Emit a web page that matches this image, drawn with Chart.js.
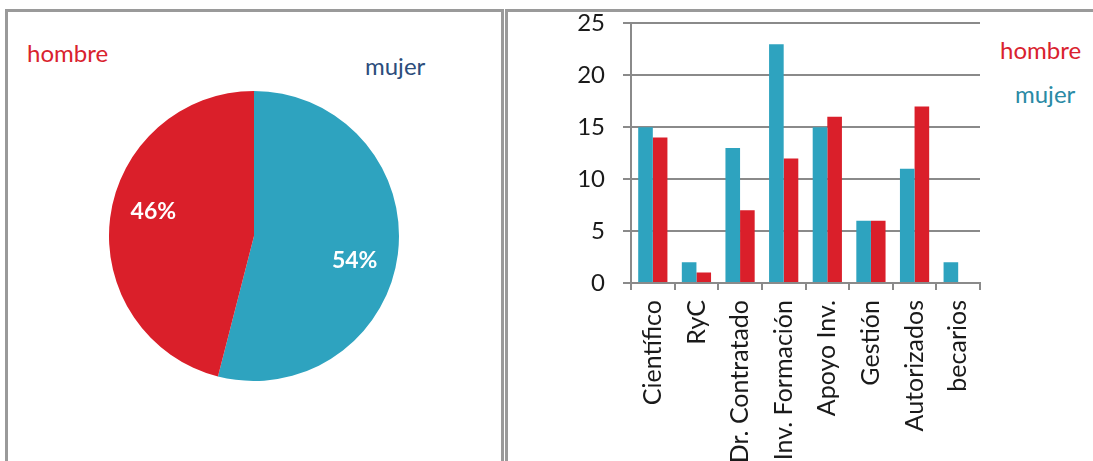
<!DOCTYPE html>
<html>
<head>
<meta charset="utf-8">
<script src="https://cdn.jsdelivr.net/npm/chart.js@4.4.1/dist/chart.umd.min.js"></script>
<style>
  body { margin: 0; width: 1093px; height: 461px; overflow: hidden; background: #fff; font-family: Lato, sans-serif; }
  .panel { position: absolute; box-sizing: border-box; border: 3px solid #9a9a9a; border-bottom: none; }
  .lbl { position: absolute; font-size: 24px; line-height: 1.2; white-space: nowrap; }
  .box { position: absolute; }
</style>
</head>
<body>
<div class="panel" style="left:5px;top:9px;width:499px;height:470px"></div>
<div class="panel" style="left:505px;top:9px;width:700px;height:470px"></div>

<span class="lbl" style="left:27px;top:39px;color:#d9222e">hombre</span>
<span class="lbl" style="left:365px;top:52px;color:#2c4d7c">mujer</span>
<span class="lbl" style="left:1000px;top:36px;color:#d9222e">hombre</span>
<span class="lbl" style="left:1015px;top:80px;color:#2a8aa5">mujer</span>

<div class="box" style="left:109px;top:91px;width:290px;height:290px"><canvas id="pieChart"></canvas></div>
<div class="box" style="left:540px;top:-9px;width:460px;height:509px"><canvas id="barChart"></canvas></div>

<script>
// bar chart data
const categories = ["Científico", "RyC", "Dr. Contratado", "Inv. Formación", "Apoyo Inv.", "Gestión", "Autorizados", "becarios"];
const mujerValues = [15, 2, 13, 23, 15, 6, 11, 2];
const hombreValues = [14, 1, 7, 12, 16, 6, 17, 0];

// pie data (percent)
const pieLabels = ["mujer", "hombre"];
const piePercent = [54, 46];

const BLUE = "#2ea3bf";
const RED = "#da1f2a";

// white % labels inside the slices
const pctLabels = {
  id: "pctLabels",
  afterDatasetsDraw(chart) {
    const ctx = chart.ctx;
    const meta = chart.getDatasetMeta(0);
    ctx.save();
    ctx.font = "bold 23px Lato";
    ctx.fillStyle = "#fff";
    ctx.textAlign = "center";
    ctx.textBaseline = "middle";
    meta.data.forEach((arc, i) => {
      const mid = (arc.startAngle + arc.endAngle) / 2;
      const r = arc.outerRadius * 0.7;
      const dy = Math.sign(Math.sin(mid)) * 12;
      ctx.fillText(piePercent[i] + "%", arc.x + Math.cos(mid) * r, arc.y + Math.sin(mid) * r + dy);
    });
    ctx.restore();
  }
};

new Chart(document.getElementById("pieChart"), {
  type: "pie",
  data: {
    labels: pieLabels,
    datasets: [{
      data: piePercent,
      backgroundColor: [BLUE, RED],
      borderWidth: 0
    }]
  },
  options: {
    responsive: true,
    maintainAspectRatio: false,
    animation: false,
    plugins: { legend: { display: false }, tooltip: { enabled: false } }
  },
  plugins: [pctLabels]
});

new Chart(document.getElementById("barChart"), {
  type: "bar",
  data: {
    labels: categories,
    datasets: [
      { label: "mujer", data: mujerValues, backgroundColor: BLUE },
      { label: "hombre", data: hombreValues, backgroundColor: RED }
    ]
  },
  options: {
    responsive: true,
    maintainAspectRatio: false,
    animation: false,
    layout: { padding: { top: 23, right: 20, left: 0, bottom: 0 } },
    datasets: { bar: { categoryPercentage: 0.67, barPercentage: 1 } },
    plugins: { legend: { display: false }, tooltip: { enabled: false } },
    scales: {
      x: {
        grid: { offset: true, drawOnChartArea: false, drawTicks: true, tickLength: 7, color: "#8a8a8a", lineWidth: 2 },
        border: { color: "#8a8a8a", width: 2 },
        ticks: { minRotation: 90, maxRotation: 90, autoSkip: false, padding: 10, color: "#1a1a1a", font: { family: "Lato", size: 25 } },
        afterFit(scale) { scale.height = 217; }
      },
      y: {
        min: 0,
        max: 25,
        grid: { color: "#8a8a8a", lineWidth: 2, tickLength: 8 },
        border: { color: "#8a8a8a", width: 2 },
        ticks: { stepSize: 5, padding: 18, color: "#1a1a1a", font: { family: "Lato", size: 24 } },
        afterFit(scale) { scale.width = 91; }
      }
    }
  }
});
</script>
</body>
</html>
